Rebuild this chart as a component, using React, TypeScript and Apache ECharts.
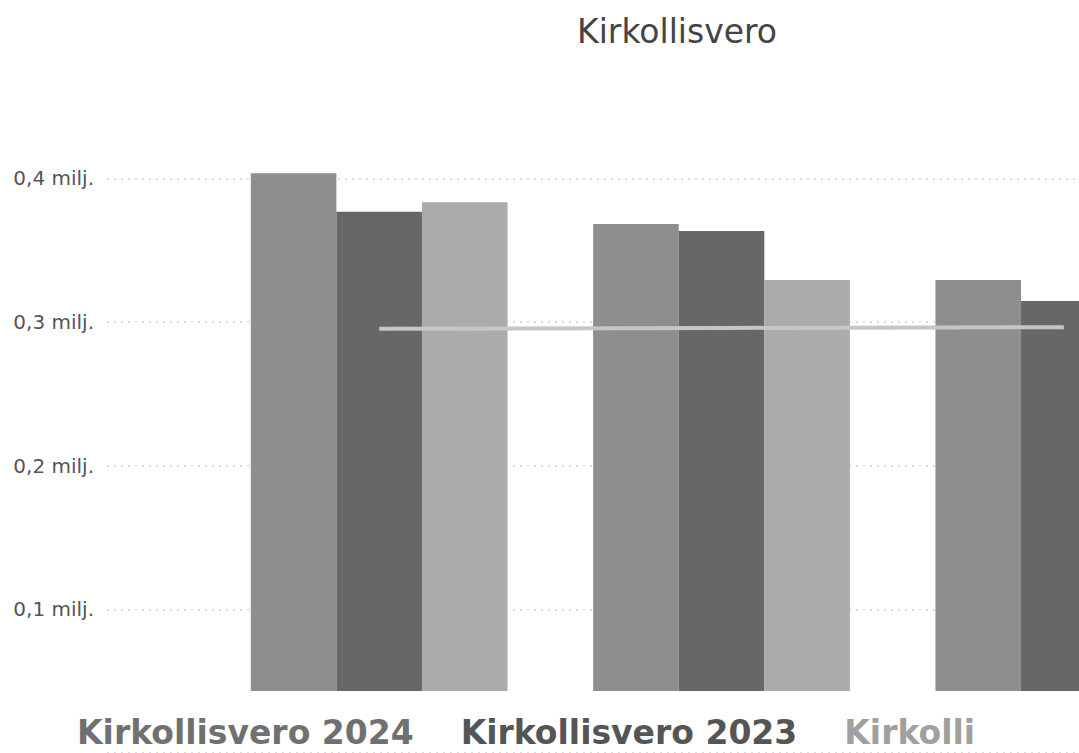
import React, { useEffect, useRef } from "react";
import * as echarts from "echarts";

const categories = ["Ryhmä 1", "Ryhmä 2", "Ryhmä 3"];
const seriesNames = ["Kirkollisvero 2024", "Kirkollisvero 2023", "Kirkollisvero 2022"];
const values2024 = [0.4032, 0.3708, 0.3351];
const values2023 = [0.3787, 0.3664, 0.3217];
const values2022 = [0.3847, 0.3351, 0.33];
const lineValues = [0.304, 0.3045, 0.305];
const yTicks = [0.1, 0.2, 0.3, 0.4];

const FONT = "DejaVu Sans";
const CHART_WIDTH = 1300;

export default function App() {
  const ref = useRef<HTMLDivElement>(null);
  useEffect(() => {
    if (!ref.current) return;
    const chart = echarts.init(ref.current, undefined, { renderer: "svg" });
    const barColors = ["#8e8e8e", "#676767", "#ababab"];
    const legendColors = ["#707070", "#555555", "#a0a0a0"];
    const barData = [values2024, values2023, values2022];
    chart.setOption({
      animation: false,
      backgroundColor: "#ffffff",
      title: {
        text: "Kirkollisvero",
        left: 572,
        top: 10,
        textStyle: { fontFamily: FONT, fontSize: 33, fontWeight: "normal", color: "#444444" },
      },
      legend: {
        left: 72,
        top: 716,
        padding: 0,
        itemWidth: 0,
        itemHeight: 0,
        itemGap: 42,
        icon: "rect",
        selectedMode: false,
        data: seriesNames.map((n, i) => ({
          name: n,
          textStyle:
            i === 2
              ? { color: legendColors[i], width: 140, overflow: "truncate", ellipsis: "" }
              : { color: legendColors[i] },
        })),
        textStyle: { fontFamily: FONT, fontSize: 33, lineHeight: 32, fontWeight: "bold" },
      },
      grid: [
        { left: 107, right: 0, top: 178.3, bottom: -52 },
        { left: 208, right: CHART_WIDTH - 1235, top: 100, bottom: 62 },
      ],
      xAxis: [
        { type: "category", gridIndex: 0, show: false, data: categories },
        {
          type: "category",
          gridIndex: 1,
          data: categories,
          axisLine: { show: false },
          axisTick: { show: false },
          axisLabel: { show: false },
        },
      ],
      yAxis: [
        {
          type: "value",
          gridIndex: 0,
          min: 0,
          max: 0.4,
          interval: 0.1,
          axisLine: { show: false },
          axisTick: { show: false },
          axisLabel: {
            margin: 13,
            fontFamily: FONT,
            fontSize: 20,
            color: "#555555",
            formatter: (v: number) =>
              yTicks.some((t) => Math.abs(t - v) < 1e-9) ? v.toFixed(1).replace(".", ",") + " milj." : "",
          },
          splitLine: { lineStyle: { color: "#cfcfcf", type: [2, 5], width: 1.5 } },
        },
        {
          type: "value",
          gridIndex: 1,
          min: 0.0728,
          max: 0.45,
          show: false,
          splitLine: { show: false },
        },
      ],
      series: [
        ...barData.map((d, i) => ({
          name: seriesNames[i],
          type: "bar",
          xAxisIndex: 1,
          yAxisIndex: 1,
          data: d,
          barGap: "0%",
          barCategoryGap: "25%",
          itemStyle: { color: barColors[i] },
        })),
        {
          name: "Keskiarvo",
          type: "line",
          xAxisIndex: 1,
          yAxisIndex: 1,
          data: lineValues,
          symbol: "none",
          z: 5,
          lineStyle: { color: "#c6c6c6", width: 4 },
        },
      ],
    });
    return () => chart.dispose();
  }, []);
  return (
    <div style={{ position: "fixed", left: 0, top: 0, width: "100vw", height: "100vh", overflow: "hidden" }}>
      <div ref={ref} style={{ width: CHART_WIDTH, height: "100vh" }} />
    </div>
  );
}
